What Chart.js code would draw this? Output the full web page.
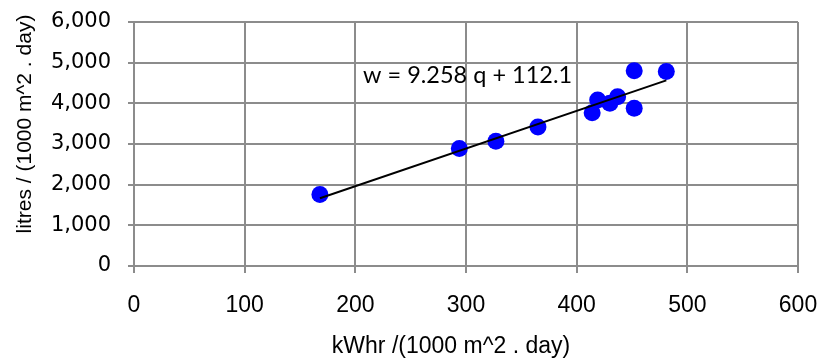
<!DOCTYPE html>
<html>
<head>
<meta charset="utf-8">
<script src="https://cdn.jsdelivr.net/npm/chart.js@4/dist/chart.umd.min.js"></script>
<style>
html,body{margin:0;padding:0;background:#fff;}
#wrap{width:819px;height:361px;position:relative;}
</style>
</head>
<body>
<div id="wrap"><canvas id="c" width="819" height="361"></canvas></div>
<script>
// Observed data (kWhr per 1000 m^2 per day vs litres per 1000 m^2 per day)
const energyQ = [168, 294, 327, 365, 414, 419, 430, 437, 452, 452, 481];
const waterW  = [1760, 2890, 3070, 3420, 3770, 4080, 4000, 4160, 3880, 4800, 4780];
// Trendline end points (w = 9.258 q + 112.1)
const trendQ = [168, 481];
const trendW = [1667, 4565];
const equationText = 'w = 9.258 q + 112.1';
const xTitle = 'kWhr /(1000 m^2 . day)';
const yTitle = 'litres / (1000 m^2 . day)';
const xTicks = [0, 100, 200, 300, 400, 500, 600];
const yTicks = [0, 1000, 2000, 3000, 4000, 5000, 6000];

const gridColor = '#8c8c8c';
const fam = '"Liberation Sans", Arial, sans-serif';

const textPlugin = {
  id: 'texts',
  afterDraw(chart) {
    const ctx = chart.ctx;
    const xs = chart.scales.x, ys = chart.scales.y;
    ctx.save();
    ctx.fillStyle = '#000';
    // equation label
    ctx.font = '24px Lato, "Open Sans", sans-serif';
    ctx.textAlign = 'left';
    ctx.textBaseline = 'alphabetic';
    ctx.fillText(equationText, xs.getPixelForValue(207), ys.getPixelForValue(4500), 209);
    // x title
    ctx.font = '23px ' + fam;
    ctx.textAlign = 'center';
    ctx.textBaseline = 'middle';
    ctx.fillText(xTitle, 451, 347);
    // y title
    ctx.translate(25, 124);
    ctx.rotate(-Math.PI / 2);
    ctx.font = '21px ' + fam;
    ctx.fillText(yTitle, 0, 0);
    ctx.restore();
  }
};

new Chart(document.getElementById('c'), {
  type: 'scatter',
  data: {
    datasets: [
      {
        type: 'line',
        data: trendQ.map((q, i) => ({x: q, y: trendW[i]})),
        borderColor: '#000',
        borderWidth: 2,
        pointRadius: 0,
        fill: false,
        order: 0
      },
      {
        data: energyQ.map((q, i) => ({x: q, y: waterW[i]})),
        backgroundColor: '#0000ff',
        borderColor: '#0000ff',
        borderWidth: 0,
        pointRadius: 8.5,
        pointHoverRadius: 8.5,
        order: 1
      }
    ]
  },
  options: {
    responsive: false,
    animation: false,
    events: [],
    layout: {padding: {left: 0, right: 21, top: 22, bottom: 0}},
    plugins: {legend: {display: false}, tooltip: {enabled: false}},
    scales: {
      x: {
        type: 'linear',
        min: 0, max: 600,
        afterBuildTicks(s) { s.ticks = xTicks.map(v => ({value: v})); },
        afterFit(s) { s.height = 95; s.paddingLeft = 0; s.paddingRight = 0; },
        grid: {color: gridColor, lineWidth: 2, tickLength: 7, drawTicks: true},
        border: {color: gridColor, width: 2},
        ticks: {font: {family: fam, size: 23}, color: '#000', padding: 19, maxRotation: 0}
      },
      y: {
        type: 'linear',
        min: 0, max: 6000,
        afterBuildTicks(s) { s.ticks = yTicks.map(v => ({value: v})); },
        afterFit(s) { s.width = 134; s.paddingTop = 0; s.paddingBottom = 0; },
        grid: {color: gridColor, lineWidth: 2, tickLength: 6, drawTicks: true},
        border: {color: gridColor, width: 2},
        ticks: {font: {family: '"DejaVu Sans", sans-serif', size: 21}, color: '#000', padding: 17,
          callback: v => v.toLocaleString('en-US')}
      }
    }
  },
  plugins: [textPlugin]
});
</script>
</body>
</html>
